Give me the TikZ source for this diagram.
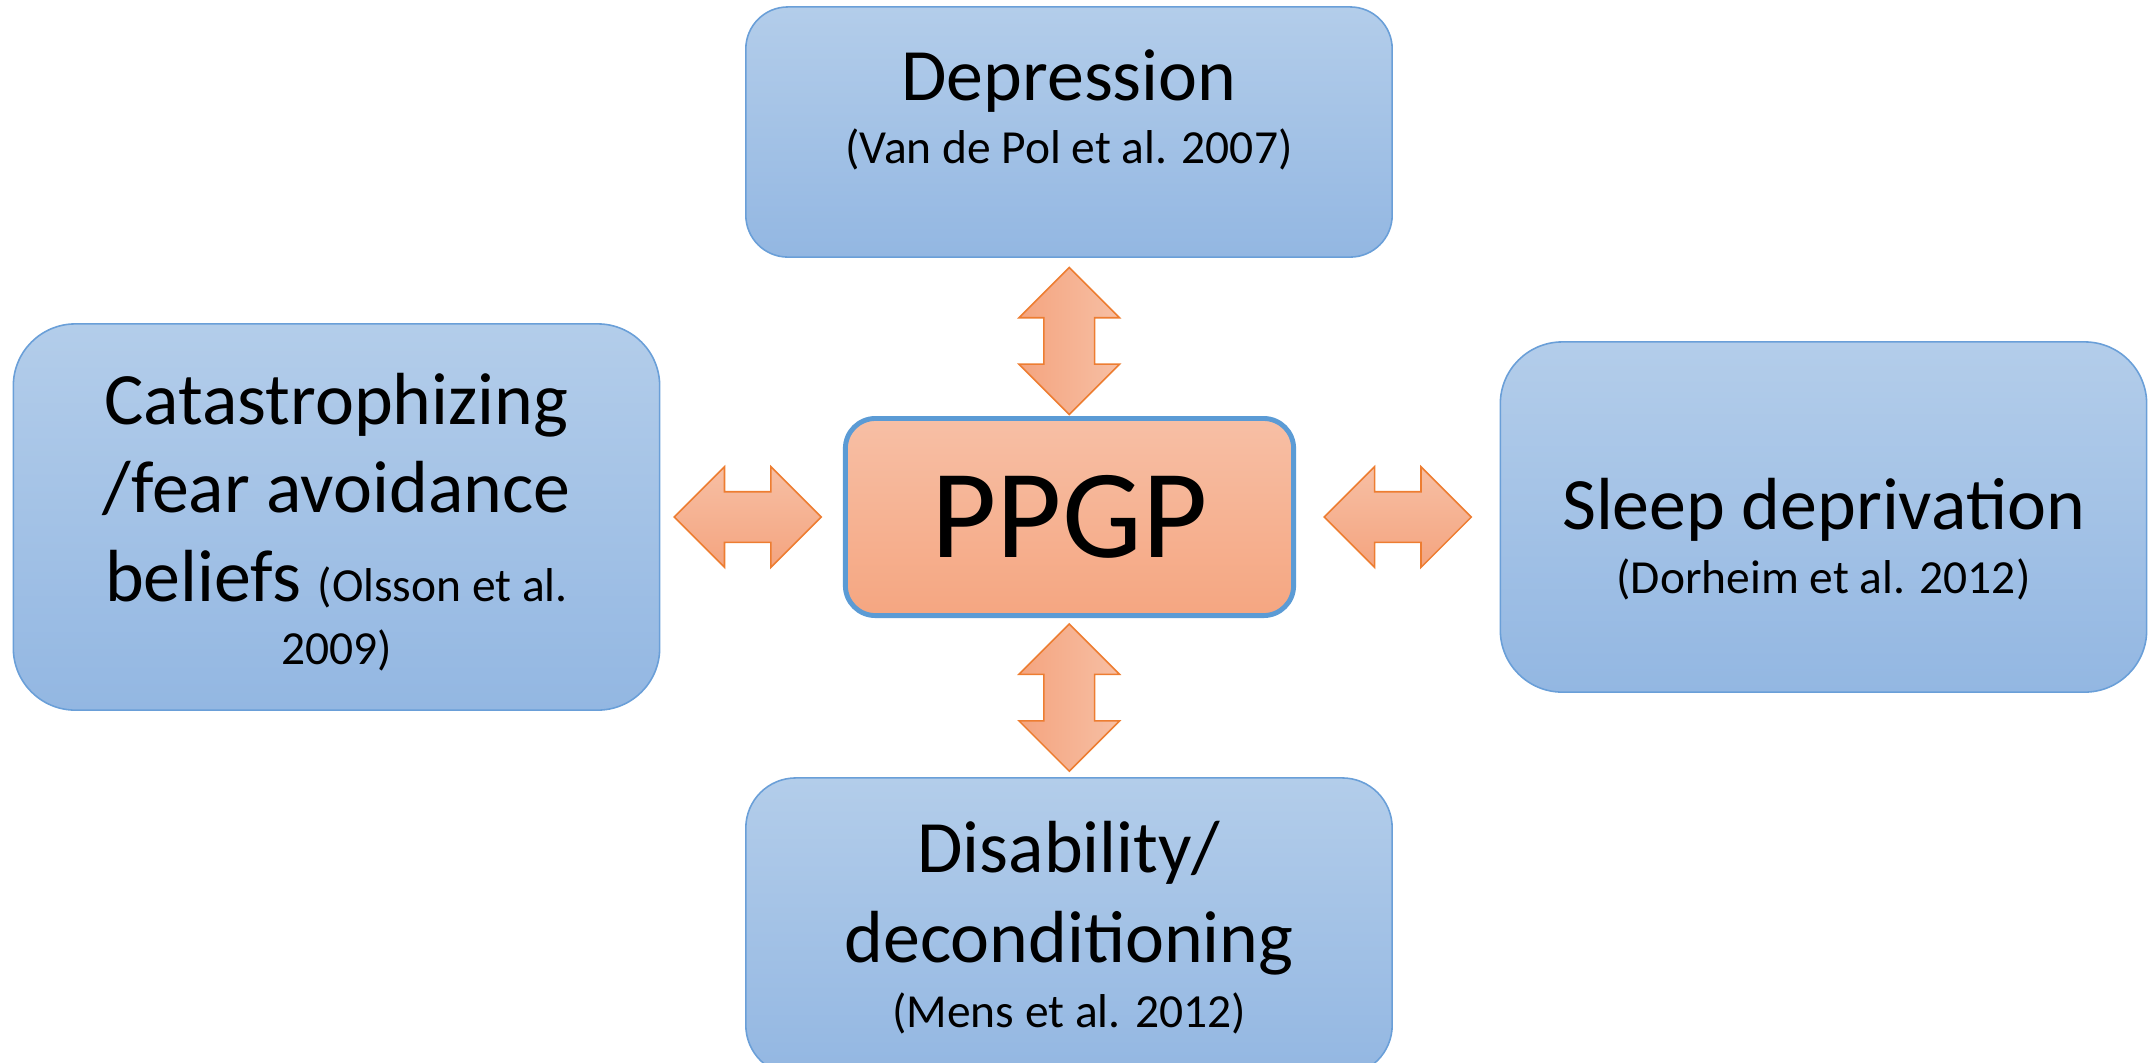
\documentclass[tikz,border=0pt]{standalone}
\usepackage{fontspec}
\setmainfont{Carlito}
\usetikzlibrary{positioning,calc,shapes.arrows}
\definecolor{boxTop}{HTML}{B3CDEA}
\definecolor{boxBottom}{HTML}{93B7E2}
\definecolor{boxLine}{HTML}{6A9FD8}
\definecolor{coreTop}{HTML}{F7BFA5}
\definecolor{coreBottom}{HTML}{F5A681}
\definecolor{coreLine}{HTML}{5B9BD5}
\definecolor{arrowLight}{HTML}{F7BFA4}
\definecolor{arrowDark}{HTML}{F4A47F}
\definecolor{arrowLine}{HTML}{ED7D31}

\begin{document}
\begin{tikzpicture}[x=0.01cm, y=-0.01cm,
    factorBox/.style={draw=boxLine, line width=0.45pt, top color=boxTop, bottom color=boxBottom, inner sep=0pt, minimum width=6.46cm},
    coreBox/.style={draw=coreLine, line width=1.4pt, top color=coreTop, bottom color=coreBottom, rounded corners=0.3cm, inner sep=0pt, minimum width=4.48cm, minimum height=1.97cm, font=\fontsize{36}{40}\selectfont},
    linkArrow/.style={double arrow, draw=arrowLine, line width=0.45pt, inner xsep=0pt, inner ysep=0.245cm, double arrow head extend=0.25cm, minimum height=1.47cm},
    bigText/.style={anchor=base, inner sep=0pt, font=\fontsize{21}{25}\selectfont},
    refText/.style={anchor=base, inner sep=0pt, font=\fontsize{13.5}{16}\selectfont}
]
    \path[use as bounding box, clip] (0,0) rectangle (2153,1062);

    % the four factors round the centre
    \node[factorBox, rounded corners=0.42cm, minimum height=2.5cm] (depBox) at (1069,132) {};
    \node[factorBox, rounded corners=0.62cm, minimum height=3.86cm] (catBox) at (336.5,517) {};
    \node[factorBox, rounded corners=0.62cm, minimum height=3.5cm] (sleepBox) at (1823.5,517) {};
    \node[factorBox, rounded corners=0.5cm, minimum height=2.97cm] (disBox) at (1069,926.5) {};

    \node[coreBox] (ppgp) at (1069.5,517) {PPGP};

    % texts
    \node[bigText] (depTitle) at (1069,100) {Depression};
    \node[refText] (depRef) at (1069,163) {(Van de Pol et al. 2007)};

    \node[bigText] (catLineA) at (336.5,424) {Catastrophizing};
    \node[bigText] (catLineB) at (336.5,512) {/fear avoidance};
    \node[bigText] (catLineC) at (336.5,601) {beliefs {\fontsize{13.5}{16}\selectfont(Olsson et al.}};
    \node[refText] (catRef) at (336.5,664) {2009)};

    \node[bigText] (sleepTitle) at (1823.5,529) {Sleep deprivation};
    \node[refText] (sleepRef) at (1823.5,593) {(Dorheim et al. 2012)};

    \node[bigText] (disLineA) at (1069,872) {Disability/};
    \node[bigText] (disLineB) at (1069,962) {deconditioning};
    \node[refText] (disRef) at (1069,1027) {(Mens et al. 2012)};

    % two-way links
    \node[linkArrow, rotate=90, left color=arrowDark, right color=arrowLight] (upLink) at ($(ppgp.north)!0.5!(depBox.south)+(0,4)$) {};
    \node[linkArrow, rotate=90, left color=arrowDark, right color=arrowLight] (downLink) at ($(ppgp.south)!0.5!(disBox.north)$) {};
    \node[linkArrow, top color=arrowLight, bottom color=arrowDark] (leftLink) at ($(catBox.east)!0.5!(ppgp.west)+(-4,0)$) {};
    \node[linkArrow, top color=arrowLight, bottom color=arrowDark] (rightLink) at ($(ppgp.east)!0.5!(sleepBox.west)$) {};
\end{tikzpicture}
\end{document}
